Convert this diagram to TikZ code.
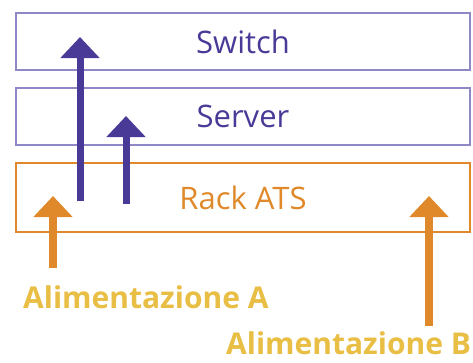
\documentclass[tikz,border=0pt]{standalone}
\usepackage{fontspec}
\setmainfont{Open Sans}
\usepackage{xcolor}
\usetikzlibrary{positioning, arrows.meta}

\definecolor{purp}{RGB}{74,58,152}
\definecolor{purpline}{RGB}{142,136,198}
\definecolor{orng}{RGB}{224,137,42}
\definecolor{yell}{RGB}{232,190,68}

\begin{document}
\begin{tikzpicture}[x=1pt, y=-1pt,
    layerbox/.style={draw=purpline, line width=2pt, minimum width=454pt, minimum height=57pt, inner sep=0pt, text=purp, font=\fontsize{31}{31}\selectfont},
    upflow/.style={line width=7pt, -{Triangle[width=38pt,length=21pt]}},
    feedlabel/.style={text=yell, inner sep=0pt, anchor=base west, font=\bfseries\fontsize{30}{30}\selectfont}]
    \useasboundingbox (0,0) rectangle (473,362);
    % Layer boxes
    \node[layerbox] (switch) at (243,41.5) {Switch};
    \node[layerbox] (server) at (243,116.5) {Server};
    \node[layerbox, draw=orng, text=orng, minimum height=69pt] (ats) at (243,197.5) {Rack ATS};
    % Ends of the arrows
    \coordinate (s1) at (80,201);
    \coordinate (t1) at (80,37);
    \coordinate (s2) at (126,204);
    \coordinate (t2) at (126,116);
    \coordinate (sa) at (53,268);
    \coordinate (ta) at (53,196);
    \coordinate (sb) at (429,326);
    \coordinate (tb) at (429,196);
    % Arrows
    \draw[upflow, purp] (s1) -- (t1);
    \draw[upflow, purp] (s2) -- (t2);
    \draw[upflow, orng, line width=8pt] (sa) -- (ta);
    \draw[upflow, orng, line width=8pt] (sb) -- (tb);
    % Power feeds
    \node[feedlabel] (feeda) at (23,308) {Alimentazione A};
    \node[feedlabel] (feedb) at (226,354) {Alimentazione B};
\end{tikzpicture}
\end{document}
